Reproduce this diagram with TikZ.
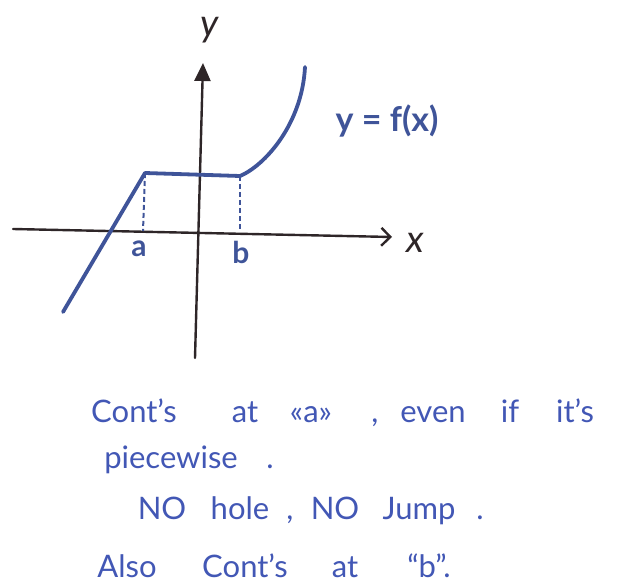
\documentclass[tikz,border=0pt]{standalone}
\usepackage{fontspec}
\setmainfont{Lato}
\usetikzlibrary{arrows.meta}
\definecolor{curveblue}{HTML}{3F5499}
\definecolor{inkblue}{HTML}{4257B5}
\definecolor{axisdark}{HTML}{2E2628}
\tikzset{
  axis/.style={draw=axisdark, line width=2.4pt, line cap=round},
  graphline/.style={draw=curveblue, line width=3.8pt, line cap=round, line join=round},
  guide/.style={draw=curveblue, line width=2pt, dash pattern=on 5pt off 3pt},
  word/.style={text=inkblue, font=\fontsize{31}{34}\selectfont, anchor=base, inner sep=0pt},
  axlabel/.style={text=axisdark, font=\fontsize{38}{40}\selectfont\itshape, inner sep=0pt},
  ptlabel/.style={text=curveblue, font=\fontsize{30}{32}\selectfont\bfseries, inner sep=0pt},
}
\begin{document}
\begin{tikzpicture}[x=1pt,y=-1pt]
\useasboundingbox (0,0) rectangle (620,585);
% axes
\coordinate (xl) at (13,229);
\coordinate (xr) at (392,237);
\coordinate (yb) at (195,358);
\coordinate (yt) at (203,63);
\draw[axis, -{Straight Barb[length=9pt,width=18pt,line width=2.4pt]}] (xl) -- (xr);
\draw[axis, -{Triangle[length=18pt,width=16pt]}] (yb) -- (yt);
\node[axlabel] (ylab) at (210,30) {y};
\node[axlabel] (xlab) at (415,243) {x};
% graph
\coordinate (p0) at (63,312);
\coordinate (pa) at (145,173);
\coordinate (pb) at (240,176);
\coordinate (p1) at (305,67);
\draw[graphline] (p0) -- (pa) -- (pb) .. controls (264,166) and (302,125) .. (p1);
\coordinate (fa) at (143,231);
\coordinate (fb) at (240,229);
\draw[guide] (pa) -- (fa);
\draw[guide] (pb) -- (fb);
\node[ptlabel] (la) at (139,249) {a};
\node[ptlabel] (lb) at (241,252) {b};
\node[ptlabel, font=\fontsize{34}{36}\selectfont\bfseries] (fx) at (387,121) {y = f(x)};
% text
\node[word] (w1) at (134,422) {Cont’s};
\node[word] (w2) at (245,422) {at};
\node[word] (w3) at (311,422) {«a»};
\node[word] (w4) at (375,422) {,};
\node[word] (w5) at (433,422) {even};
\node[word] (w6) at (510,422) {if};
\node[word] (w7) at (575,422) {it’s};
\node[word] (w8) at (171,468) {piecewise};
\node[word] (w9) at (270,468) {.};
\node[word] (w10) at (162,519) {NO};
\node[word] (w11) at (240,519) {hole};
\node[word] (w12) at (290,519) {,};
\node[word] (w13) at (335,519) {NO};
\node[word] (w14) at (419,519) {Jump};
\node[word] (w15) at (480,519) {.};
\node[word] (w16) at (127,577) {Also};
\node[word] (w17) at (245,577) {Cont’s};
\node[word] (w18) at (345,577) {at};
\node[word] (w19) at (429,577) {“b”.};
\end{tikzpicture}
\end{document}
